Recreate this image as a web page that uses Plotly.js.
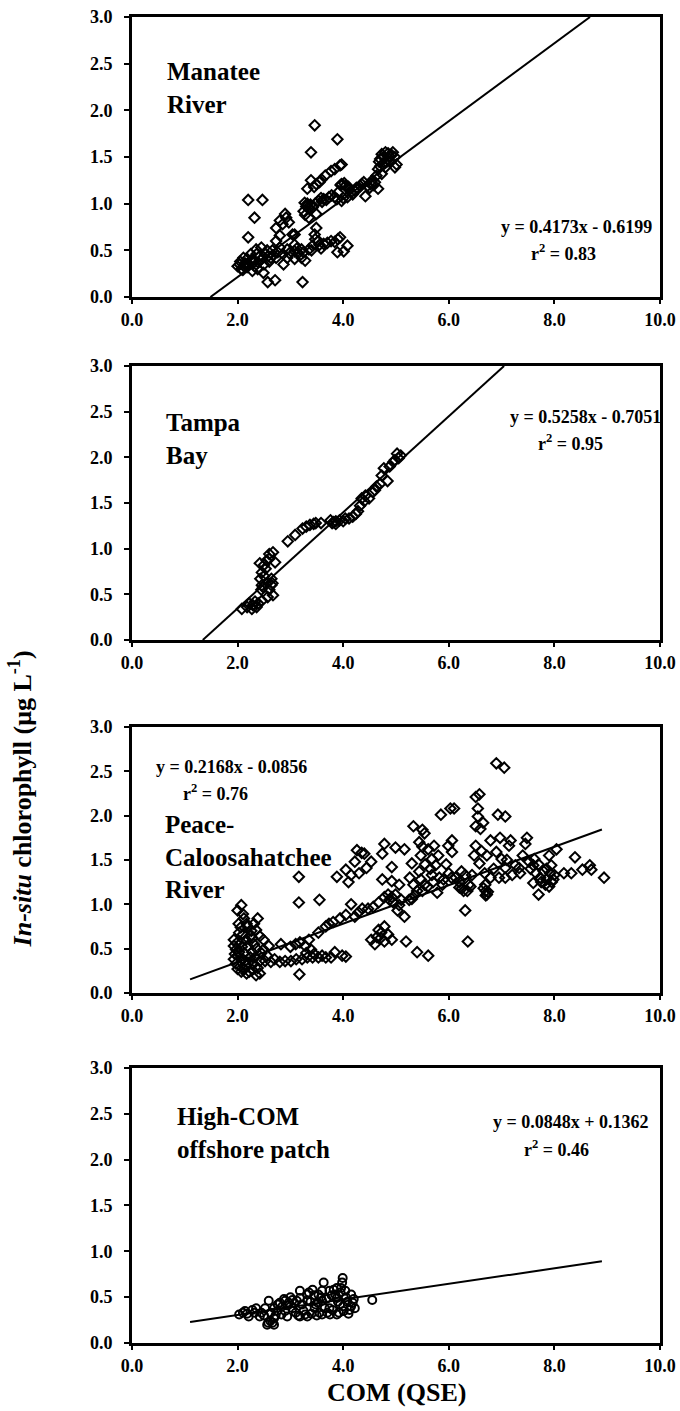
<!DOCTYPE html>
<html>
<head>
<meta charset="utf-8">
<script src="https://cdn.plot.ly/plotly-3.0.1.min.js"></script>
<style>html,body{margin:0;padding:0;background:#fff;}#chart{width:680px;height:1411px;}</style>
</head>
<body>
<div id="chart"></div>
<script>
// ---- Data ----
const panelNames = ["Manatee<br>River", "Tampa<br>Bay", "Peace-<br>Caloosahatchee<br>River", "High-COM<br>offshore patch"];
const slopes = [0.4173, 0.5258, 0.2168, 0.0848];
const intercepts = [-0.6199, -0.7051, -0.0856, 0.1362];
const eqTexts = ["y = 0.4173x - 0.6199", "y = 0.5258x - 0.7051", "y = 0.2168x - 0.0856", "y = 0.0848x + 0.1362"];
const r2Texts = ["r<sup>2</sup> = 0.83", "r<sup>2</sup> = 0.95", "r<sup>2</sup> = 0.76", "r<sup>2</sup> = 0.46"];
const fitXRange = [[0, 10], [0, 10], [1.1, 8.9], [1.1, 8.9]];
const xTicks = [0, 2, 4, 6, 8, 10];
const yTicks = [0, 0.5, 1, 1.5, 2, 2.5, 3];

const manateePts = [
[3.46,1.84],[3.39,1.55],[3.89,1.69],[2.20,1.04],[2.47,1.04],[2.32,0.85],[2.20,0.64],[2.57,0.16],[2.71,0.18],[3.23,0.16],[3.27,1.01],
[2.73,0.74],[2.80,0.82],[2.90,0.89],[2.85,0.78],[2.97,0.80],[2.92,0.85],
[3.32,1.16],[3.39,1.25],[3.49,1.21],[3.59,1.26],[3.66,1.30],[3.77,1.35],[3.84,1.37],[3.94,1.41],[3.97,1.42],[3.45,1.18],[3.55,1.23],
[3.25,0.92],[3.32,1.00],[3.42,0.96],[3.53,1.03],[3.63,1.05],[3.73,1.07],[3.84,1.07],[3.97,1.03],[4.08,1.07],[4.18,1.10],[4.25,1.17],[4.32,1.19],[4.39,1.23],[4.46,1.19],[4.60,1.23],[4.63,1.30],[4.66,1.37],[4.70,1.48],[4.73,1.53],[4.80,1.55],[4.87,1.51],[4.94,1.55],[4.98,1.50],[5.01,1.42],[4.98,1.39],[4.80,1.39],[4.73,1.32],[4.42,1.08],[4.66,1.16],[3.97,1.21],[4.04,1.19],[3.90,1.12],[3.28,0.88],[3.35,0.95],[4.12,1.15],[4.52,1.21],[4.55,1.25],[4.68,1.45],[4.76,1.50],[4.84,1.47],[4.90,1.45],[3.78,1.09],[3.68,1.04],
[3.60,1.02],[3.88,1.05],[4.00,1.06],[4.15,1.12],[4.22,1.14],[4.35,1.21],[4.50,1.17],[4.58,1.20],[4.70,1.40],[4.85,1.54],[4.92,1.52],[4.78,1.44],[3.95,1.20],[4.02,1.22],[4.10,1.18],[4.28,1.16],[3.30,0.97],[3.38,0.99],[3.47,1.00],[3.58,1.06],
[3.08,0.67],[3.49,0.89],[3.35,0.85],
[2.80,0.53],[2.94,0.51],[3.08,0.49],[3.21,0.51],[3.35,0.51],[3.46,0.67],[3.49,0.74],[3.53,0.60],[3.63,0.57],[3.77,0.60],[3.90,0.62],[3.89,0.48],[4.01,0.49],[4.08,0.55],[3.94,0.64],[2.94,0.42],[2.87,0.35],[2.73,0.42],[3.08,0.56],[3.04,0.67],[2.63,0.42],[2.52,0.46],[2.45,0.53],[2.35,0.51],[2.25,0.46],[2.11,0.42],[2.04,0.35],[2.07,0.30],[2.18,0.32],[2.32,0.33],[2.39,0.37],[2.49,0.26],[2.25,0.39],[2.18,0.41],[2.00,0.33],[2.73,0.60],[2.80,0.66],[3.21,0.42],[3.28,0.39],[3.08,0.41],[3.15,0.47],[3.42,0.55],[3.70,0.58],[3.84,0.59],[3.47,0.62],[2.60,0.38],[2.67,0.45],[2.14,0.36],[2.10,0.29],[2.28,0.28],[2.42,0.44],[2.56,0.50],[2.38,0.30],
[2.05,0.38],[2.12,0.33],[2.20,0.36],[2.30,0.40],[2.36,0.46],[2.44,0.40],[2.50,0.35],[2.58,0.44],[2.66,0.50],[2.76,0.48],[2.86,0.46],[2.98,0.47],[3.12,0.52],[3.25,0.48],[3.40,0.50],[3.55,0.56],[3.58,0.52]
];

const tampaPts = [
[2.08,0.34],[2.18,0.36],[2.29,0.38],[2.39,0.40],[2.46,0.43],[2.57,0.47],[2.67,0.49],[2.27,0.34],[2.36,0.36],[2.22,0.40],[2.33,0.42],
[2.46,0.60],[2.43,0.67],[2.46,0.74],[2.50,0.82],[2.55,0.87],[2.60,0.89],[2.57,0.63],[2.64,0.60],[2.64,0.67],[2.50,0.70],[2.53,0.78],[2.45,0.55],[2.60,0.55],[2.67,0.96],[2.71,0.85],[2.60,0.94],[2.66,0.62],[2.42,0.84],[2.48,0.58],
[2.95,1.08],[3.09,1.15],[3.23,1.22],[3.30,1.24],[3.37,1.26],[3.48,1.28],[3.58,1.28],[3.44,1.27],
[3.79,1.28],[3.86,1.30],[3.93,1.31],[4.04,1.33],[4.11,1.33],[4.18,1.35],[4.28,1.41],[4.32,1.47],[4.35,1.55],[4.42,1.58],[4.49,1.55],[4.56,1.62],[4.63,1.68],[4.70,1.71],[4.73,1.80],[4.77,1.88],[4.84,1.74],[4.88,1.90],[4.95,1.95],[5.02,2.04],[5.05,1.99],[5.09,2.02],[3.76,1.31],[3.86,1.27],[4.00,1.30],[4.24,1.38],[4.40,1.52],[4.60,1.64],[4.98,1.97],[3.82,1.29]
];

const peacePts = [
[2.00,0.93],[2.07,0.99],[2.10,0.89],[2.17,0.78],[1.93,0.60],[2.03,0.68],[1.97,0.49],[1.93,0.38],[2.00,0.27],[2.07,0.24],[2.17,0.22],[2.28,0.26],[2.35,0.20],[2.42,0.22],[2.38,0.84],[2.35,0.71],[2.49,0.60],[2.19,0.53],[2.28,0.46],[2.49,0.49],[2.56,0.42],[2.63,0.35],[2.59,0.53],[2.42,0.36],[2.14,0.36],[2.03,0.46],[2.24,0.64],[2.31,0.55],[2.07,0.57],[2.17,0.31],[1.97,0.33],[2.10,0.66],[2.19,0.75],[2.31,0.78],[1.93,0.53],[2.42,0.64],[2.00,0.42],[2.12,0.45],[2.24,0.40],[2.05,0.30],[2.13,0.27],[2.22,0.24],[2.30,0.33],[2.38,0.28],[1.95,0.44],[2.08,0.52],[2.16,0.60],[2.26,0.70],[2.02,0.78],[2.12,0.84],[2.45,0.45],[2.52,0.36],[2.36,0.50],[2.28,0.62],[1.98,0.56],[2.20,0.34],[2.33,0.40],[2.10,0.38],[2.06,0.74],
[2.80,0.35],[2.90,0.36],[3.01,0.36],[3.11,0.38],[3.22,0.38],[3.32,0.40],[3.42,0.40],[3.53,0.40],[3.67,0.40],[3.77,0.40],[3.84,0.46],[3.98,0.42],[4.05,0.41],[3.18,0.57],[3.28,0.53],[3.35,0.60],[3.39,0.49],[3.17,0.21],[2.82,0.55],[2.70,0.38],[3.30,0.45],[3.45,0.44],[3.60,0.42],
[3.53,0.68],[3.67,0.75],[3.81,0.80],[3.94,0.84],[4.05,0.88],[4.15,1.00],[4.22,0.86],[4.29,0.91],[4.36,0.95],[4.47,0.95],[4.57,0.97],[4.67,1.02],[4.78,1.08],[4.85,1.11],[4.92,1.08],[4.99,1.11],[5.06,0.99],[5.03,0.93],[5.16,0.86],[5.19,0.58],[5.40,0.46],[5.61,0.42],[4.88,1.05],[4.95,1.02],[5.10,1.05],[5.25,1.05],[5.35,1.10],[5.50,1.15],[5.60,1.20],[5.70,1.25],[5.90,1.28],[6.05,1.30],[3.00,0.52],[3.10,0.55],[3.73,0.78],
[3.16,1.31],[3.16,1.02],[3.55,1.05],[3.88,1.31],[4.05,1.39],[4.15,1.33],[4.22,1.48],[4.26,1.61],[4.40,1.57],[4.44,1.41],[4.53,1.48],[4.74,1.57],[4.78,1.68],[4.74,1.28],[4.92,1.42],[4.99,1.64],[4.92,1.26],[5.06,1.22],[4.10,1.25],[4.30,1.35],[4.35,1.58],
[4.53,0.60],[4.60,0.55],[4.67,0.71],[4.78,0.75],[4.71,0.62],[4.85,0.66],[4.92,0.60],[4.78,0.58],[4.64,0.63],[4.72,0.68],
[5.16,1.62],[5.30,1.46],[5.33,1.88],[5.44,1.70],[5.50,1.84],[5.54,1.80],[5.47,1.55],[5.61,1.62],[5.68,1.51],[5.72,1.66],[5.75,1.44],[5.82,1.30],[5.85,2.01],[6.03,2.08],[6.10,2.08],[5.99,1.66],[6.06,1.72],[6.06,1.59],[5.88,1.22],[5.33,1.22],[5.40,1.15],[5.54,1.22],[5.47,1.28],[5.68,1.33],[5.30,1.06],[5.44,1.37],[5.26,1.30],[5.78,1.13],[5.55,1.45],[5.65,1.40],[5.50,1.65],[5.80,1.55],[5.95,1.45],[6.00,1.35],
[6.13,1.30],[6.20,1.19],[6.28,1.15],[6.31,0.93],[6.36,0.58],[6.38,1.22],[6.44,1.33],[6.48,1.55],[6.51,1.66],[6.51,1.88],[6.55,1.99],[6.51,2.21],[6.58,2.24],[6.55,2.08],[6.65,1.92],[6.58,1.46],[6.69,1.22],[6.72,1.11],[6.79,1.30],[6.72,1.55],[6.79,1.72],[6.90,2.59],[7.05,2.54],[6.93,2.01],[7.07,1.99],[6.97,1.75],[6.90,1.59],[7.00,1.51],[7.07,1.41],[7.14,1.66],[7.07,1.30],[7.17,1.72],[7.20,1.33],[7.26,1.44],[7.33,1.41],[7.45,1.68],[7.48,1.75],[7.40,1.55],[7.52,1.48],[7.60,1.44],[7.62,1.51],[7.60,1.24],[7.70,1.11],[7.73,1.30],[7.80,1.37],[7.83,1.22],[7.90,1.55],[7.94,1.44],[7.90,1.20],[8.00,1.33],[8.04,1.62],[8.18,1.35],[8.32,1.35],[8.39,1.53],[8.53,1.39],[8.67,1.44],[8.70,1.39],[8.94,1.30],[6.41,1.20],[6.31,1.33],[6.24,1.37],[6.62,1.60],[6.70,1.15],[6.85,1.40],[6.95,1.30],[7.10,1.50],[7.35,1.35],[7.55,1.40],[7.75,1.25],[7.85,1.28],[7.95,1.25],[6.60,1.85],[6.68,1.35],
[6.70,1.10],[6.74,1.14],[6.66,1.18],[6.20,1.25],[6.25,1.18],[6.35,1.15],[7.85,1.40],[7.92,1.35],[7.98,1.28],[7.65,1.35],[7.70,1.45]
];

const offshorePts = [
[3.63,0.66],[3.99,0.71],[4.55,0.47],[2.94,0.29],
[2.03,0.31],[2.14,0.35],[2.28,0.36],[2.42,0.29],[2.56,0.20],[2.69,0.20],[2.63,0.33],[2.76,0.42],[2.90,0.46],[3.04,0.47],[3.18,0.49],[3.32,0.53],[3.42,0.58],[3.53,0.53],[3.60,0.46],[3.74,0.57],[3.88,0.60],[3.98,0.66],[4.04,0.57],[4.15,0.53],[4.22,0.38],[4.01,0.35],[3.88,0.31],[3.60,0.31],[3.32,0.29],[3.18,0.29],[3.46,0.38],[3.04,0.38],[2.83,0.31],[2.69,0.27],[2.52,0.38],[2.59,0.46],[2.90,0.35],[3.74,0.38],[3.94,0.42],[3.22,0.42],[4.15,0.40],[2.21,0.29],[2.35,0.38],[3.18,0.57],[3.32,0.46],[3.88,0.49],[3.60,0.57],[2.69,0.38],[2.97,0.44],[2.10,0.33],[2.45,0.33],[2.62,0.24],[2.75,0.35],[2.85,0.40],[3.10,0.33],[3.25,0.35],[3.40,0.32],[3.52,0.44],[3.68,0.48],[3.80,0.36],[3.95,0.55],[4.08,0.45],[4.20,0.48],[3.50,0.30],[3.70,0.33],[4.10,0.32],[3.00,0.50],[3.35,0.55],[3.85,0.53],
[2.18,0.32],[2.32,0.33],[2.50,0.30],[2.58,0.22],[2.66,0.22],[2.72,0.30],[2.80,0.44],[2.95,0.41],[3.08,0.43],[3.15,0.30],[3.28,0.31],[3.38,0.45],[3.45,0.52],[3.55,0.33],[3.65,0.38],[3.78,0.52],[3.92,0.33],[4.00,0.40],[4.05,0.50],[4.12,0.36],[4.18,0.44],[3.75,0.31],[3.58,0.50],[3.48,0.42],[3.12,0.46],[2.88,0.48],[3.90,0.45],[3.82,0.58],[3.96,0.60]
];

// annotation positions (data coordinates of each panel)
const labelPos = [[0.62, 2.58], [0.61, 2.55], [0.58, 2.07], [0.82, 2.64]];
const eqPos = [[8.42, 0.75], [8.58, 2.44], [1.88, 2.55], [8.32, 2.41]];
const r2Pos = [[8.17, 0.48], [8.31, 2.16], [1.58, 2.26], [8.04, 2.12]];

// ---- Build figure ----
const allPts = [manateePts, tampaPts, peacePts, offshorePts];
const symbols = ["diamond-open", "diamond-open", "diamond-open", "circle-open"];
const FONT = "'Liberation Serif', 'Times New Roman', Times, serif";
const domains = [[0.7888, 1.0], [0.5302, 0.7368], [0.2640, 0.4646], [0.0, 0.2074]];

const traces = [];
const layout = {
  width: 680, height: 1411,
  margin: {l: 132, r: 20, t: 17, b: 68},
  paper_bgcolor: "white", plot_bgcolor: "white",
  showlegend: false,
  font: {family: FONT, color: "black"},
  annotations: []
};

allPts.forEach((pts, i) => {
  const sfx = i === 0 ? "" : String(i + 1);
  const xa = "x" + sfx, ya = "y" + sfx;
  traces.push({
    type: "scatter", mode: "markers", xaxis: xa, yaxis: ya,
    x: pts.map(p => p[0]), y: pts.map(p => p[1]),
    marker: {symbol: symbols[i], size: 8, color: "black", line: {width: 2, color: "black"}},
    cliponaxis: true, hoverinfo: "skip"
  });
  // regression line clipped to visible y range [0,3]
  const m = slopes[i], b = intercepts[i];
  let x0 = Math.max(fitXRange[i][0], (0 - b) / m);
  let x1 = Math.min(fitXRange[i][1], (3 - b) / m);
  traces.push({
    type: "scatter", mode: "lines", xaxis: xa, yaxis: ya,
    x: [x0, x1], y: [m * x0 + b, m * x1 + b],
    line: {color: "black", width: 2}, hoverinfo: "skip"
  });
  layout["xaxis" + sfx] = {
    domain: [0, 1], anchor: ya, range: [0, 10],
    tickvals: xTicks, tickformat: ".1f",
    ticks: "outside", ticklen: 4, tickwidth: 2, tickcolor: "black",
    showline: true, mirror: true, linewidth: 3, linecolor: "black",
    showgrid: false, zeroline: false,
    tickfont: {family: FONT, size: 18, weight: "bold", color: "black"},
    ticklabelstandoff: 0
  };
  layout["yaxis" + sfx] = {
    domain: domains[i], anchor: xa, range: [0, 3],
    tickvals: yTicks, tickformat: ".1f",
    ticks: "outside", ticklen: 5, tickwidth: 2, tickcolor: "black",
    showline: true, mirror: true, linewidth: 3, linecolor: "black",
    showgrid: false, zeroline: false,
    tickfont: {family: FONT, size: 18, weight: "bold", color: "black"},
    ticklabelstandoff: 8
  };
  layout.annotations.push({
    xref: xa, yref: ya, x: labelPos[i][0], y: labelPos[i][1],
    xanchor: "left", yanchor: "top", align: "left", showarrow: false,
    text: "<b>" + panelNames[i] + "</b>",
    font: {family: FONT, size: 25, color: "black"}
  });
  layout.annotations.push({
    xref: xa, yref: ya, x: eqPos[i][0], y: eqPos[i][1],
    xanchor: "center", yanchor: "middle", showarrow: false,
    text: "<b>" + eqTexts[i] + "</b>",
    font: {family: FONT, size: 18, color: "black"}
  });
  layout.annotations.push({
    xref: xa, yref: ya, x: r2Pos[i][0], y: r2Pos[i][1],
    xanchor: "center", yanchor: "middle", showarrow: false,
    text: "<b>" + r2Texts[i] + "</b>",
    font: {family: FONT, size: 18, color: "black"}
  });
});

// shared axis titles
layout.annotations.push({
  xref: "paper", yref: "paper", x: -0.212, y: 0.41,
  xanchor: "center", yanchor: "middle", textangle: -90, showarrow: false,
  text: "<b><i>In-situ</i> chlorophyll (μg L<sup>-1</sup>)</b>",
  font: {family: FONT, size: 26, color: "black"}
});
layout.annotations.push({
  xref: "paper", yref: "paper", x: 0.5, y: -0.0495,
  xanchor: "center", yanchor: "bottom", showarrow: false,
  text: "<b>COM (QSE)</b>",
  font: {family: FONT, size: 26, color: "black"}
});

Plotly.newPlot("chart", traces, layout, {staticPlot: true, displayModeBar: false});
</script>
</body>
</html>
